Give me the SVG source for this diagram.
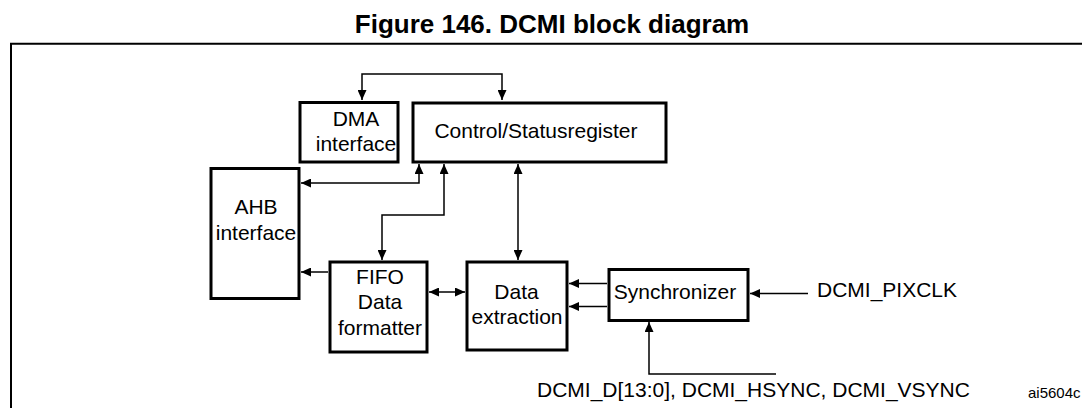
<svg xmlns="http://www.w3.org/2000/svg" width="1082" height="408" viewBox="0 0 1082 408">
<style>
.box{fill:#fff;stroke:#000;stroke-width:3}
.ln{fill:none;stroke:#000;stroke-width:1.5}
.t{font-family:"Liberation Sans",Arial,sans-serif;font-size:21px;fill:#000;text-anchor:middle}
.l{font-family:"Liberation Sans",Arial,sans-serif;font-size:21px;fill:#000}
</style>
<defs>
<marker id="ah" markerUnits="userSpaceOnUse" markerWidth="10" markerHeight="9" refX="10" refY="4.5" orient="auto-start-reverse" viewBox="0 0 10 9">
<path d="M0,0 L10,4.5 L0,9 z" fill="#000"/>
</marker>
</defs>
<rect width="1082" height="408" fill="#fff"/>
<text x="552" y="33" font-family="'Liberation Sans',Arial,sans-serif" font-size="26" font-weight="bold" text-anchor="middle">Figure 146. DCMI block diagram</text>
<path d="M11,420 V43.7 H1090" fill="none" stroke="#000" stroke-width="2"/>
<g id="connectors">
<path class="ln" d="M362,100 V74 H502 V100" marker-start="url(#ah)" marker-end="url(#ah)"/>
<path class="ln" d="M301,183 H419 V164" marker-start="url(#ah)" marker-end="url(#ah)"/>
<path class="ln" d="M382,260 V215 H444 V164" marker-start="url(#ah)" marker-end="url(#ah)"/>
<path class="ln" d="M518,164 V260" marker-start="url(#ah)" marker-end="url(#ah)"/>
<path class="ln" d="M328,272 H301" marker-end="url(#ah)"/>
<path class="ln" d="M429,292 H465" marker-start="url(#ah)" marker-end="url(#ah)"/>
<path class="ln" d="M607,283.5 H569" marker-end="url(#ah)"/>
<path class="ln" d="M607,306.5 H569" marker-end="url(#ah)"/>
<path class="ln" d="M808,293.5 H750" marker-end="url(#ah)"/>
<path class="ln" d="M776,374 H649 V322" marker-end="url(#ah)"/>
</g>
<g id="dma">
<rect class="box" x="300" y="102.5" width="98" height="59.5"/>
<text class="t" x="356" y="125.5">DMA</text>
<text class="t" x="356" y="150.5">interface</text>
</g>
<g id="ctrl">
<rect class="box" x="413" y="103" width="253" height="59"/>
<text class="t" x="536" y="137.5">Control/Statusregister</text>
</g>
<g id="ahb">
<rect class="box" x="211" y="168.5" width="88" height="130"/>
<text class="t" x="256" y="214">AHB</text>
<text class="t" x="256" y="240">interface</text>
</g>
<g id="fifo">
<rect class="box" x="330" y="262" width="97" height="90"/>
<text class="t" x="380" y="283.5">FIFO</text>
<text class="t" x="380" y="308.5">Data</text>
<text class="t" x="380" y="335">formatter</text>
</g>
<g id="extract">
<rect class="box" x="467" y="262" width="100" height="88"/>
<text class="t" x="516.5" y="299">Data</text>
<text class="t" x="517" y="323.5">extraction</text>
</g>
<g id="sync">
<rect class="box" x="609" y="269.5" width="139" height="51"/>
<text class="t" x="675" y="298.5">Synchronizer</text>
</g>
<g id="labels">
<text class="l" x="817" y="297">DCMI_PIXCLK</text>
<text class="l" x="537" y="397">DCMI_D[13:0], DCMI_HSYNC, DCMI_VSYNC</text>
<text x="1028" y="398" font-family="'Liberation Sans',Arial,sans-serif" font-size="15">ai5604c</text>
</g>
</svg>
